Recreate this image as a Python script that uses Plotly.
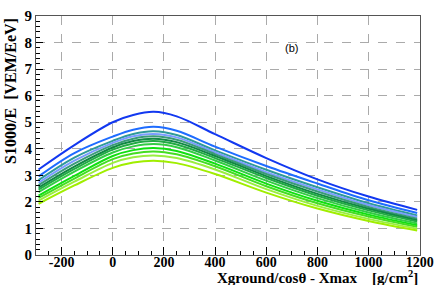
import plotly.graph_objects as go

x_vals = [-290, -150, 0, 80, 160, 250, 400, 600, 800, 1000, 1190]

curve_01 = [3.22, 4.14, 5.00, 5.27, 5.39, 5.22, 4.55, 3.65, 2.85, 2.20, 1.70]
curve_02 = [2.96, 3.84, 4.46, 4.72, 4.83, 4.68, 4.08, 3.35, 2.69, 2.06, 1.58]
curve_03 = [2.82, 3.67, 4.30, 4.56, 4.66, 4.52, 3.94, 3.21, 2.55, 1.95, 1.49]
curve_04 = [2.72, 3.55, 4.22, 4.47, 4.56, 4.43, 3.87, 3.12, 2.47, 1.88, 1.43]
curve_05 = [2.63, 3.44, 4.14, 4.38, 4.47, 4.34, 3.80, 3.05, 2.39, 1.81, 1.37]
curve_06 = [2.54, 3.33, 4.05, 4.29, 4.38, 4.25, 3.73, 2.97, 2.30, 1.74, 1.31]
curve_07 = [2.46, 3.24, 3.97, 4.20, 4.29, 4.16, 3.65, 2.90, 2.23, 1.68, 1.26]
curve_08 = [2.37, 3.14, 3.86, 4.09, 4.18, 4.06, 3.56, 2.80, 2.14, 1.60, 1.19]
curve_09 = [2.24, 2.98, 3.73, 3.95, 4.03, 3.92, 3.44, 2.69, 2.04, 1.52, 1.12]
curve_10 = [2.15, 2.88, 3.61, 3.82, 3.90, 3.79, 3.34, 2.59, 1.95, 1.45, 1.06]
curve_11 = [2.05, 2.76, 3.47, 3.68, 3.75, 3.65, 3.22, 2.48, 1.85, 1.36, 0.99]
curve_12 = [1.93, 2.62, 3.28, 3.48, 3.55, 3.46, 3.05, 2.35, 1.75, 1.28, 0.92]

curves = [curve_01, curve_02, curve_03, curve_04, curve_05, curve_06,
          curve_07, curve_08, curve_09, curve_10, curve_11, curve_12]
colors = ["#1238f0", "#1e6cff", "#2e9a9a", "#7a9cff", "#3a9a78", "#118844",
          "#22aa44", "#33cc44", "#10e010", "#44dd22", "#9aee40", "#a0ee00"]

x_ticks = [-200, 0, 200, 400, 600, 800, 1000, 1200]
y_ticks = [0, 1, 2, 3, 4, 5, 6, 7, 8, 9]

fig = go.Figure()
for c, col in zip(curves, colors):
    fig.add_trace(go.Scatter(x=x_vals, y=c, mode="lines",
                             line=dict(color=col, width=2, shape="spline", smoothing=1.0),
                             showlegend=False, hoverinfo="skip"))

tickfont = dict(family="Liberation Serif", size=14, color="black")
fig.update_layout(
    width=442, height=285,
    margin=dict(l=36, r=14, t=8, b=30),
    paper_bgcolor="white", plot_bgcolor="white",
    xaxis=dict(range=[-300, 1201], tickvals=x_ticks, ticktext=[f"<b>{v}</b>" for v in x_ticks],
               ticks="inside", ticklen=8, tickcolor="black", ticklabelstandoff=-6,
               showgrid=True, gridcolor="#aaaaaa", griddash="dash", gridwidth=1,
               showline=True, linecolor="#555555", linewidth=1, mirror=True,
               zeroline=False, tickfont=tickfont,
               minor=dict(ticks="inside", ticklen=4, dtick=50, tickcolor="black", showgrid=False)),
    yaxis=dict(range=[0, 9], tickvals=y_ticks, ticktext=[f"<b>{v}</b>" for v in y_ticks],
               ticks="inside", ticklen=7, tickcolor="black",
               showgrid=True, gridcolor="#aaaaaa", griddash="dash", gridwidth=1,
               showline=True, linecolor="#555555", linewidth=1, mirror=True,
               zeroline=False, tickfont=dict(family="Liberation Serif", size=15, color="black"),
               minor=dict(ticks="inside", ticklen=4, dtick=0.2, tickcolor="black", showgrid=False)),
    annotations=[
        dict(text="<b>S1000/E  [VEM/EeV]</b>", xref="paper", yref="paper",
             x=-0.068, y=1.0, xanchor="center", yanchor="top", textangle=-90,
             showarrow=False, font=dict(family="Liberation Serif", size=16, color="black")),
        dict(text="<b>Xground/cosθ - Xmax    [g/cm<sup>2</sup>]</b>", xref="paper", yref="paper",
             x=1.0, y=-0.09, xanchor="right", yanchor="middle",
             showarrow=False, font=dict(family="Liberation Serif", size=15, color="black")),
        dict(text="(b)", xref="x", yref="y", x=700, y=7.8, xanchor="center", yanchor="middle",
             showarrow=False, font=dict(family="Liberation Sans", size=11, color="black")),
    ],
)

fig.write_html("out.html", config={"displayModeBar": False},
               post_script="document.body.style.margin='0px';document.body.style.overflow='hidden';")
